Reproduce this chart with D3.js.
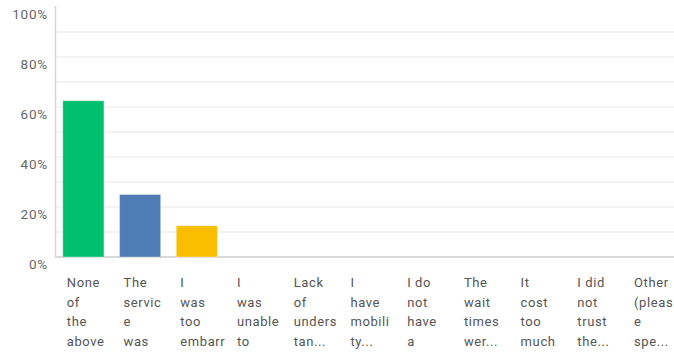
<!DOCTYPE html>
<html>
<head>
<meta charset="utf-8">
<script src="https://cdn.jsdelivr.net/npm/d3@7"></script>
<style>
  html, body { margin: 0; padding: 0; background: #fff; }
  svg { display: block; }
  text { font-family: Roboto, "Open Sans", sans-serif; }
</style>
</head>
<body>
<svg id="chart" width="674" height="352"></svg>
<script>
// Answer choices, as their wrapped label lines
const categoryLines = [
  ["None", "of", "the", "above"],
  ["The", "servic", "e", "was"],
  ["I", "was", "too", "embarr"],
  ["I", "was", "unable", "to"],
  ["Lack", "of", "unders", "tan..."],
  ["I", "have", "mobili", "ty..."],
  ["I do", "not", "have", "a"],
  ["The", "wait", "times", "wer..."],
  ["It", "cost", "too", "much"],
  ["I did", "not", "trust", "the..."],
  ["Other", "(pleas", "e", "spe..."]
];
// Share of respondents (%)
const values = [62.5, 25, 12.5, 0, 0, 0, 0, 0, 0, 0, 0];
const barColors = ["#00bf6f", "#507cb6", "#f9be00", "#6bc8cd", "#ff8b4f", "#7d5ba6", "#dd6c71", "#9dd06a", "#c7a3e1", "#d0d5dc", "#5e5e5e"];
const yTicks = [0, 20, 40, 60, 80, 100];
const gridTicks = [10, 20, 30, 40, 50, 60, 70, 80, 90];

const svg = d3.select("#chart");
const plot = { left: 56, right: 678, top: 7, bottom: 257 };

const ids = categoryLines.map((d, i) => i);
const x = d3.scaleBand().domain(ids).range([plot.left, plot.right]).paddingInner(0.275).paddingOuter(0.12);
const y = d3.scaleLinear().domain([0, 100]).range([plot.bottom, plot.top]);

// horizontal gridlines
svg.append("g").selectAll("line").data(gridTicks).join("line")
  .attr("x1", plot.left).attr("x2", 674)
  .attr("y1", d => y(d)).attr("y2", d => y(d))
  .attr("stroke", "#efefef").attr("stroke-width", 1.6);

// y axis line
svg.append("line")
  .attr("x1", 55.5).attr("x2", 55.5).attr("y1", y(100) - 1).attr("y2", y(0))
  .attr("stroke", "#d4d4d4").attr("stroke-width", 1.5);

// baseline
svg.append("line")
  .attr("x1", 55).attr("x2", 674).attr("y1", y(0)).attr("y2", y(0))
  .attr("stroke", "#d9d9d9").attr("stroke-width", 2);

// y tick labels, sitting just below their value
svg.append("g").selectAll("text").data(yTicks).join("text")
  .attr("x", 48).attr("y", d => y(d) + 12)
  .attr("text-anchor", "end")
  .attr("font-size", 13.5)
  .attr("letter-spacing", 0.8)
  .attr("fill", "#666")
  .text(d => d + "%");

// bars
svg.append("g").selectAll("rect").data(values).join("rect")
  .attr("x", (d, i) => x(i))
  .attr("y", d => y(d))
  .attr("width", x.bandwidth())
  .attr("height", d => y(0) - y(d))
  .attr("fill", (d, i) => barColors[i])
  .attr("stroke", "rgba(255,255,255,0.35)")
  .attr("stroke-width", 1);

// category labels
const lab = svg.append("g").selectAll("text").data(categoryLines).join("text")
  .attr("x", (d, i) => x(i) + 4)
  .attr("y", 287)
  .attr("font-size", 13)
  .attr("letter-spacing", 0.6)
  .attr("fill", "#555");
lab.selectAll("tspan").data(d => d).join("tspan")
  .attr("x", function () { return d3.select(this.parentNode).attr("x"); })
  .attr("dy", (d, j) => j === 0 ? 0 : 19.7)
  .text(d => d);
</script>
</body>
</html>
